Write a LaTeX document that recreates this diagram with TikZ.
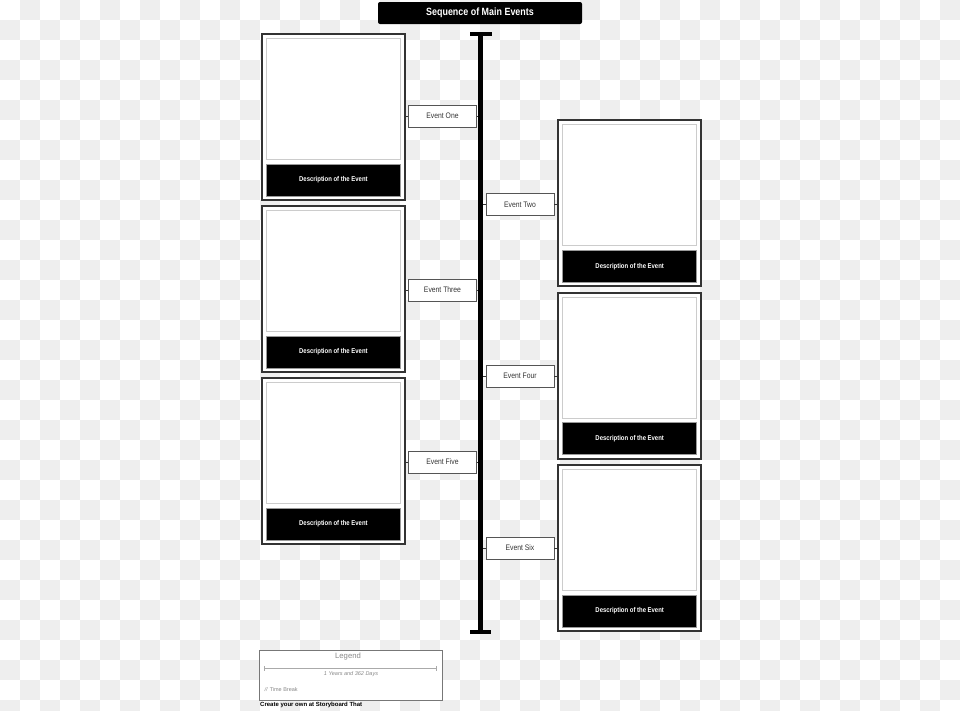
\documentclass[tikz,border=0pt]{standalone}
\usepackage{fontspec}
\setmainfont{Liberation Sans}
\newfontfamily\condfont[FakeStretch=0.85]{Liberation Sans}
\definecolor{chk}{HTML}{EEEEEE}
\definecolor{frameC}{HTML}{333333}
\definecolor{picC}{HTML}{CCCCCC}
\definecolor{descC}{HTML}{999999}
\definecolor{labC}{HTML}{555555}
\definecolor{labT}{HTML}{333333}
\definecolor{legC}{HTML}{777777}
\definecolor{legT}{HTML}{888888}
\definecolor{legL}{HTML}{AAAAAA}
\newcommand\storycell[3]{%
  \node[frame] (#1) at (#2,#3+84) {};
  \node[picbox] (#1p) at (#2,#3+66) {};
  \node[descbar] (#1d) at (#2,#3+147) {Description of the Event};
}
\begin{document}
\begin{tikzpicture}[x=1pt,y=-1pt,
  frame/.style={draw=frameC, line width=2pt, fill=white, minimum width=143, minimum height=166, inner sep=0},
  picbox/.style={draw=picC, line width=1pt, fill=white, minimum width=134, minimum height=121, inner sep=0},
  descbar/.style={draw=descC, line width=1pt, fill=black, minimum width=134, minimum height=32, inner sep=0, text=white, font=\condfont\bfseries\fontsize{7}{8}\selectfont},
  evlabel/.style={draw=labC, line width=0.9pt, fill=white, minimum width=68, minimum height=22, inner sep=0, text=labT, font=\condfont\fontsize{8}{9}\selectfont},
  stub/.style={draw=frameC, line width=1pt},
  titlebar/.style={fill=black, rounded corners=2pt, minimum width=204, minimum height=22, inner sep=0, text=white, font=\condfont\bfseries\fontsize{10.5}{12}\selectfont},
  barpart/.style={fill=black, inner sep=0}]
\useasboundingbox (0,0) rectangle (960,710);
% checkerboard background
\fill[white] (0,0) rectangle (960,710);
\foreach \j in {0,...,35}{
  \pgfmathtruncatemacro\s{mod(\j+1,2)}
  \foreach \k in {0,...,23}{
    \fill[chk] (\k*40+\s*20,\j*20) rectangle ++(20,20);
  }
}
% title
\node[titlebar] (title) at (480,13) {Sequence of Main Events};
% timeline
\node[barpart, minimum width=4.5, minimum height=598] (bar) at (480.3,333) {};
\node[barpart, minimum width=22, minimum height=4] (captop) at (481,34) {};
\node[barpart, minimum width=21, minimum height=4] (capbot) at (480.5,632) {};
% cells
\storycell{f1}{333.4}{33}
\storycell{f3}{333.4}{205}
\storycell{f5}{333.4}{377}
\storycell{f2}{629.7}{119.3}
\storycell{f4}{629.7}{291.6}
\storycell{f6}{629.7}{464}
% labels
\node[evlabel] (e1) at (442.5,116) {Event One};
\node[evlabel] (e3) at (442.5,290) {Event Three};
\node[evlabel] (e5) at (442.5,462) {Event Five};
\node[evlabel] (e2) at (520,204.5) {Event Two};
\node[evlabel] (e4) at (520,376) {Event Four};
\node[evlabel] (e6) at (520,548) {Event Six};
% connectors
\foreach \n in {1,3,5}{
  \draw[stub] (f\n.east |- e\n.west) -- (e\n.west);
  \draw[stub] (e\n.east) -- (e\n.east -| bar.west);
}
\foreach \n in {2,4,6}{
  \draw[stub] (bar.east |- e\n.west) -- (e\n.west);
  \draw[stub] (e\n.east) -- (e\n.east -| f\n.west);
}
% legend
\node[draw=legC, line width=0.8pt, fill=white, minimum width=183, minimum height=50, inner sep=0] (legend) at (350.8,675) {};
\node[text=legT, inner sep=0, font=\fontsize{7.7}{9}\selectfont] (legtitle) at (348,656) {Legend};
\coordinate (la) at (264,668.3);
\coordinate (lb) at (436.7,668.3);
\draw[legL, line width=0.7pt] (la) -- (lb);
\draw[legL, line width=0.7pt] ([yshift=-2.5]la) -- ([yshift=2.5]la);
\draw[legL, line width=0.7pt] ([yshift=-2.5]lb) -- ([yshift=2.5]lb);
\node[text=legT, inner sep=0, font=\itshape\fontsize{5.5}{6}\selectfont] (legspan) at (351,674.5) {1 Years and 362 Days};
\node[text=legT, inner sep=0, anchor=west, font=\fontsize{5.5}{6}\selectfont] (legbreak) at (264.5,690) {\textit{//}\ Time Break};
\node[text=black, inner sep=0, anchor=west, font=\bfseries\fontsize{6}{7}\selectfont] (credit) at (260,705) {Create your own at Storyboard That};
\end{tikzpicture}
\end{document}
